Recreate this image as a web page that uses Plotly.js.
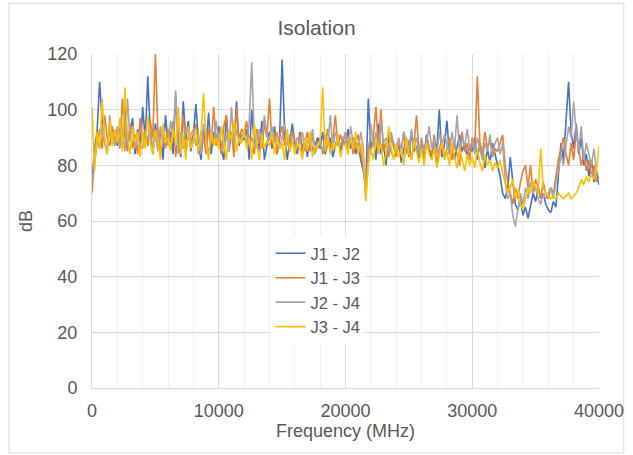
<!DOCTYPE html>
<html>
<head>
<meta charset="utf-8">
<script src="https://cdn.plot.ly/plotly-3.0.1.min.js"></script>
<style>html,body{margin:0;padding:0;background:#fff;}#chart{width:633px;height:455px;}</style>
</head>
<body>
<div id="chart"></div>
<script>
// Frequency sweep grid (MHz)
const freq = [0,200,400,600,800,1000,1200,1400,1600,1800,2000,2200,2400,2600,2800,3000,3200,3400,3600,3800,
4000,4200,4400,4600,4800,5000,5200,5400,5600,5800,6000,6200,6400,6600,6800,7000,7200,7400,7600,7800,
8000,8200,8400,8600,8800,9000,9200,9400,9600,9800,10000,10200,10400,10600,10800,11000,11200,11400,11600,11800,
12000,12200,12400,12600,12800,13000,13200,13400,13600,13800,14000,14200,14400,14600,14800,15000,15200,15400,15600,15800,
16000,16200,16400,16600,16800,17000,17200,17400,17600,17800,18000,18200,18400,18600,18800,19000,19200,19400,19600,19800,
20000,20200,20400,20600,20800,21000,21200,21400,21600,21800,22000,22200,22400,22600,22800,23000,23200,23400,23600,23800,
24000,24200,24400,24600,24800,25000,25200,25400,25600,25800,26000,26200,26400,26600,26800,27000,27200,27400,27600,27800,
28000,28200,28400,28600,28800,29000,29200,29400,29600,29800,30000,30200,30400,30600,30800,31000,31200,31400,31600,31800,
32000,32200,32400,32600,32800,33000,33200,33400,33600,33800,34000,34200,34400,34600,34800,35000,35200,35400,35600,35800,
36000,36200,36400,36600,36800,37000,37200,37400,37600,37800,38000,38200,38400,38600,38800,39000,39200,39400,39600,39800,40000];

const seriesNames = ["J1 - J2", "J1 - J3", "J2 - J4", "J3 - J4"];

const j1j2 = [74,86,92,110,96,88,86,94,89,92, 87,95,88,104,86,91,97,84,93,86,
101,89,112,91,84,95,88,93,82,98, 88,92,84,105,90,83,103,89,96,85,
91,102,88,82,93,87,99,84,92,89, 94,86,82,98,85,92,88,103,87,91,
89,93,82,100,88,91,85,96,82,87, 92,86,94,84,90,118,92,82,89,95,
88,84,92,86,89,83,91,85,87,90, 86,92,84,88,90,83,87,91,85,89,
87,93,86,90,84,88,82,78,72,104, 86,90,82,95,84,88,80,91,85,83,
84,88,81,86,90,83,92,85,87,82, 89,84,91,86,82,90,85,100,83,87,
96,84,88,82,86,91,85,88,83,87, 85,90,82,88,84,79,86,81,88,84,
80,76,70,68,72,83,74,66,64,68, 62,65,61,66,70,67,72,68,70,66,
64,63,67,65,78,88,82,96,110,92, 86,95,84,90,80,84,76,82,74,78, 73];

const j1j3 = [70,82,88,93,86,98,90,87,94,89, 92,86,104,90,85,95,86,91,84,97,
89,93,87,96,90,120,92,84,94,86, 93,88,96,83,91,89,98,84,92,90,
88,95,84,92,90,84,93,88,101,87, 90,84,94,98,88,92,83,101,89,93,
91,96,88,90,84,93,89,86,95,90, 104,88,92,84,90,94,87,91,85,92,
89,86,91,84,88,92,85,90,87,86, 90,84,88,93,86,89,98,87,91,88,
92,86,90,84,88,91,85,80,70,88, 84,91,101,86,100,85,88,83,90,86,
83,88,86,92,84,89,82,87,98,85, 88,82,90,86,84,91,80,86,89,83,
86,90,82,88,84,80,92,85,88,82, 90,86,112,88,84,92,86,89,83,86,
85,88,91,80,74,70,66,72,68,74, 78,80,72,80,70,75,72,68,74,70,
68,72,70,76,82,86,90,84,80,88, 82,92,86,80,84,78,82,76,80,74, 75];

const j2j4 = [74,80,90,86,95,88,84,98,90,87, 94,87,91,85,104,89,93,86,90,88,
86,92,89,95,85,91,85,94,88,90, 87,96,90,107,84,92,86,94,89,91,
93,87,91,84,95,89,84,92,88,96, 88,94,86,91,85,101,87,93,88,90,
92,88,95,117,90,86,93,89,98,91, 89,94,88,92,86,90,95,87,91,89,
86,90,88,92,85,89,87,93,84,88, 88,85,91,87,98,86,92,89,87,90,
91,86,94,88,90,85,92,86,68,82, 95,87,92,84,96,88,90,85,92,88,
86,90,84,92,88,85,93,86,90,84, 90,85,88,94,86,89,84,92,87,91,
88,84,92,86,98,85,90,87,93,86, 89,84,90,86,82,88,85,91,84,88,
90,84,88,74,68,70,62,58,64,70, 66,72,68,74,70,72,68,66,70,68,
70,72,68,74,78,84,80,88,94,90, 103,92,86,94,82,88,84,80,86,78, 75];

const j3j4 = [101,78,92,86,104,90,84,96,87,93, 88,97,85,108,90,84,94,88,92,83,
92,86,98,88,84,93,89,82,95,88, 90,85,93,88,101,84,91,82,94,86,
89,93,85,91,106,88,82,92,87,90, 86,94,88,82,92,89,96,85,90,88,
93,86,90,82,95,88,82,91,86,89, 87,92,84,90,86,88,82,93,85,89,
84,88,86,82,90,85,92,83,87,86, 89,108,85,90,84,88,86,91,83,87,
88,84,90,86,92,84,88,83,67,80, 86,82,90,85,88,80,84,94,86,82,
88,83,86,80,90,84,82,89,85,81, 86,80,88,84,82,86,79,84,88,82,
85,80,88,83,79,86,82,78,84,80, 83,79,86,81,78,84,80,82,78,81,
79,82,77,74,70,72,75,68,71,66, 64,68,72,70,74,72,70,86,72,70,
69,68,69,68,70,69,68,69,70,68, 69,70,72,75,73,76,74,77,75,78, 87];

const seriesColors = ["#4472C4", "#ED7D31", "#A5A5A5", "#FFC000"];
const seriesData = [j1j2, j1j3, j2j4, j3j4];

const traces = seriesData.map((ys, i) => ({
  type: "scatter",
  mode: "lines",
  name: seriesNames[i],
  x: freq,
  y: ys,
  line: {color: seriesColors[i], width: 1.6}
}));

const fontFam = "'Liberation Sans', Arial, sans-serif";
const txt = "#595959";

const layout = {
  width: 633, height: 455,
  margin: {l: 92, r: 34, t: 54, b: 67},
  paper_bgcolor: "#ffffff",
  plot_bgcolor: "#ffffff",
  font: {family: fontFam, color: txt, size: 18},
  title: {text: "Isolation", font: {size: 21, color: txt, family: fontFam}, x: 0.5, xanchor: "center", y: 0.94, yanchor: "middle"},
  showlegend: true,
  legend: {
    x: 0.352, y: 0.455, xanchor: "left", yanchor: "top",
    bgcolor: "#ffffff", borderwidth: 0,
    font: {size: 16.5, color: txt, family: fontFam},
    itemwidth: 30, tracegroupgap: 0
  },
  xaxis: {
    range: [0, 40000], dtick: 10000, tick0: 0, tickformat: "d",
    showgrid: true, gridcolor: "#d9d9d9", gridwidth: 1,
    minor: {dtick: 2000, showgrid: true, gridcolor: "#efefef", gridwidth: 1},
    showline: true, linecolor: "#d9d9d9", linewidth: 1,
    zeroline: false, ticks: "", ticklabelstandoff: 6,
    tickfont: {size: 18, color: txt},
    title: {text: "Frequency (MHz)", font: {size: 18, color: txt}, standoff: 4}
  },
  yaxis: {
    range: [0, 120], dtick: 20, tick0: 0,
    showgrid: true, gridcolor: "#d9d9d9", gridwidth: 1,
    showline: true, linecolor: "#d9d9d9", linewidth: 1,
    zeroline: false, ticks: "", ticklabelstandoff: 10,
    tickfont: {size: 18, color: txt},
    title: {text: "dB", font: {size: 18, color: txt}, standoff: 10}
  },
  shapes: [{
    type: "rect", xref: "paper", yref: "paper",
    x0: -0.1637, x1: 1.049, y0: -0.1946, y1: 1.152,
    line: {color: "#d9d9d9", width: 1}, fillcolor: "rgba(0,0,0,0)", layer: "below"
  }]
};

Plotly.newPlot("chart", traces, layout, {displayModeBar: false, staticPlot: true});
</script>
</body>
</html>
